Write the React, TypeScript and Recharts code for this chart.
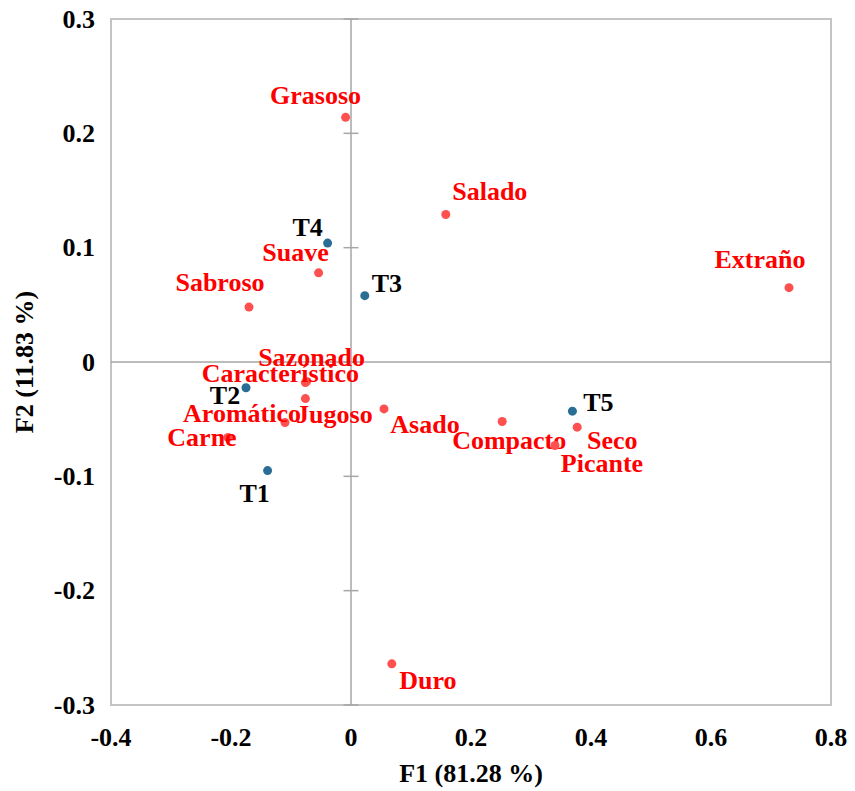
import React from "react";
import {
    ScatterChart,
    Scatter,
    XAxis,
    YAxis,
    ReferenceLine,
    ReferenceArea,
    Label,
} from "recharts";

// attributes (red)
const attrNames = [
    "Grasoso", "Salado", "Extraño", "Suave", "Sabroso", "Sazonado",
    "Característico", "Jugoso", "Aromático", "Carne", "Asado",
    "Compacto", "Seco", "Picante", "Duro",
];
const attrF1 = [
    -0.009, 0.158, 0.73, -0.054, -0.17, -0.074,
    -0.076, -0.076, -0.11, -0.205, 0.055,
    0.252, 0.377, 0.34, 0.068,
];
const attrF2 = [
    0.214, 0.129, 0.065, 0.078, 0.048, -0.017,
    -0.018, -0.032, -0.053, -0.066, -0.041,
    -0.052, -0.057, -0.073, -0.264,
];

// treatments (blue)
const obsNames = ["T1", "T2", "T3", "T4", "T5"];
const obsF1 = [-0.139, -0.175, 0.023, -0.039, 0.369];
const obsF2 = [-0.095, -0.0225, 0.058, 0.104, -0.043];

const xTicks = [-0.4, -0.2, 0, 0.2, 0.4, 0.6, 0.8];
const yTicks = [-0.3, -0.2, -0.1, 0, 0.1, 0.2, 0.3];

// where each label sits relative to its point, in px (text centre)
const labelShift: Record<string, [number, number]> = {
    Grasoso: [-30, -22],
    Salado: [44, -23],
    "Extraño": [-29, -28],
    Suave: [-23, -20],
    Sabroso: [-29, -25],
    Sazonado: [5, -24],
    "Característico": [-25, -9],
    Jugoso: [29, 16],
    "Aromático": [-43, -9],
    Carne: [-26, 0],
    Asado: [41, 16],
    Compacto: [7, 19],
    Seco: [35, 13],
    Picante: [47, 18],
    Duro: [36, 17],
    T1: [-13, 23],
    T2: [-21, 8],
    T3: [22, -12],
    T4: [-20, -16],
    T5: [26, -9],
};

const attrData = attrNames.map((name, i) => ({ name, x: attrF1[i], y: attrF2[i] }));
const obsData = obsNames.map((name, i) => ({ name, x: obsF1[i], y: obsF2[i] }));

const FONT = "'Liberation Serif', 'Times New Roman', serif";
const TICK_HALF = 0.0125;

function makePoint(dotColor: string, textColor: string) {
    return (props: any) => {
        const { cx, cy, payload } = props;
        const [dx, dy] = labelShift[payload.name] || [0, -14];
        return (
            <g>
                <circle cx={cx} cy={cy} r={4.5} fill={dotColor} />
                <text
                    x={cx + dx}
                    y={cy + dy}
                    textAnchor="middle"
                    dominantBaseline="central"
                    fill={textColor}
                    fontFamily={FONT}
                    fontWeight="bold"
                    fontSize={26}
                >
                    {payload.name}
                </text>
            </g>
        );
    };
}

const XTick = ({ x, y, payload }: any) => (
    <text x={x} y={y + 32} textAnchor="middle" dominantBaseline="central"
        fontFamily={FONT} fontWeight="bold" fontSize={26} fill="#000">
        {String(payload.value)}
    </text>
);

const YTick = ({ x, y, payload }: any) => (
    <text x={x - 16} y={y} textAnchor="end" dominantBaseline="central"
        fontFamily={FONT} fontWeight="bold" fontSize={26} fill="#000">
        {String(payload.value)}
    </text>
);

export default function App() {
    return (
        <ScatterChart
            width={847}
            height={783}
            margin={{ top: 11, right: 24, bottom: 6, left: 43 }}
        >
            <XAxis
                type="number"
                dataKey="x"
                domain={[-0.4, 0.8]}
                ticks={xTicks}
                tick={<XTick />}
                tickSize={0}
                tickMargin={0}
                axisLine={false}
                tickLine={false}
                height={80}
                allowDataOverflow
            >
                <Label
                    content={(p: any) => {
                        const vb = p.viewBox;
                        return (
                            <text x={vb.x + vb.width / 2} y={vb.y + 68} textAnchor="middle"
                                dominantBaseline="central" fontFamily={FONT} fontWeight="bold"
                                fontSize={26} fill="#000">
                                F1 (81.28 %)
                            </text>
                        );
                    }}
                />
            </XAxis>
            <YAxis
                type="number"
                dataKey="y"
                domain={[-0.3, 0.3]}
                ticks={yTicks}
                tick={<YTick />}
                tickSize={0}
                tickMargin={0}
                axisLine={false}
                tickLine={false}
                width={60}
                allowDataOverflow
            >
                <Label
                    content={(p: any) => {
                        const vb = p.viewBox;
                        const cx = vb.x + vb.width - 87;
                        const cy = vb.y + vb.height / 2;
                        return (
                            <text x={cx} y={cy} textAnchor="middle" dominantBaseline="central"
                                transform={`rotate(-90 ${cx} ${cy})`} fontFamily={FONT}
                                fontWeight="bold" fontSize={26} fill="#000">
                                F2 (11.83 %)
                            </text>
                        );
                    }}
                />
            </YAxis>
            <ReferenceArea x1={-0.4} x2={0.8} y1={-0.3} y2={0.3}
                fill="none" stroke="#c4c4c4" strokeWidth={2} />
            <ReferenceLine x={0} stroke="#a6a6a6" strokeWidth={1.5} />
            <ReferenceLine y={0} stroke="#a6a6a6" strokeWidth={1.5} />
            {yTicks.map((t) => (
                <ReferenceLine
                    key={t}
                    segment={[{ x: -TICK_HALF, y: t }, { x: TICK_HALF, y: t }]}
                    stroke="#a6a6a6"
                    strokeWidth={1.5}
                />
            ))}
            <Scatter data={attrData} shape={makePoint("#ff5050", "#ff0000")} isAnimationActive={false} />
            <Scatter data={obsData} shape={makePoint("#2a6e96", "#000000")} isAnimationActive={false} />
        </ScatterChart>
    );
}
